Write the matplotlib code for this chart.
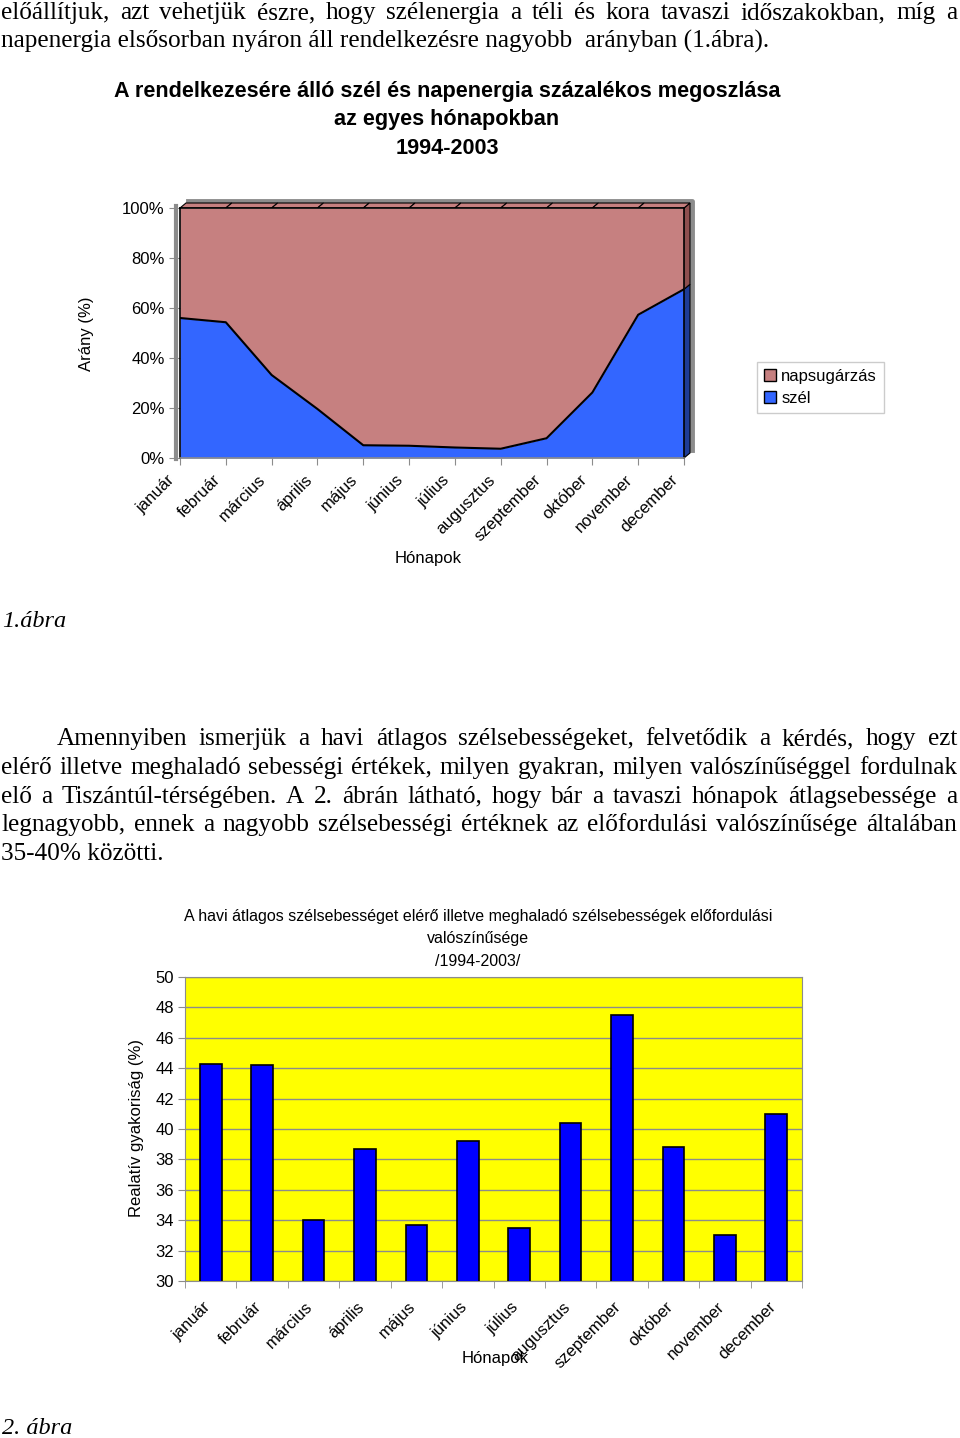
import numpy as np
import matplotlib
matplotlib.use('Agg')
import matplotlib.pyplot as plt
from matplotlib.patches import Patch, Polygon
from matplotlib import transforms

W, H = 960, 1438

# adatok
honapok = ['január', 'február', 'március', 'április', 'május', 'június',
           'július', 'augusztus', 'szeptember', 'október', 'november', 'december']
szel = [56.0, 54.3, 33.2, 19.6, 5.1, 4.9, 4.2, 3.7, 7.9, 26.2, 57.3, 67.5]
napsugarzas = [100 - v for v in szel]
gyakorisag = [44.3, 44.2, 34.0, 38.7, 33.7, 39.2, 33.5, 40.4, 47.5, 38.8, 33.0, 41.0]

top_text = [
    ("előállítjuk, azt vehetjük észre, hogy szélenergia a téli és kora tavaszi időszakokban, míg a", True),
    ("napenergia elsősorban nyáron áll rendelkezésre nagyobb  arányban (1.ábra).", False),
]
para_text = [
    ("Amennyiben ismerjük a havi átlagos szélsebességeket, felvetődik a kérdés, hogy ezt", True),
    ("elérő illetve meghaladó sebességi értékek, milyen gyakran, milyen valószínűséggel fordulnak", True),
    ("elő a Tiszántúl-térségében.  A 2. ábrán látható, hogy bár a tavaszi hónapok átlagsebessége a", True),
    ("legnagyobb, ennek a nagyobb szélsebességi értéknek az előfordulási valószínűsége általában", True),
    ("35-40% közötti.", False),
]

plt.rcParams['font.family'] = 'Liberation Sans'

fig = plt.figure(figsize=(W / 100, H / 100), dpi=100)
page = fig.add_axes([0, 0, 1, 1], zorder=0)
page.set_xlim(0, W)
page.set_ylim(H, 0)
page.axis('off')


def box(x0, y0, x1, y1, **kw):
    return fig.add_axes([x0 / W, 1 - y1 / H, (x1 - x0) / W, (y1 - y0) / H], **kw)


# szoveg sorkizarva
r = fig.canvas.get_renderer()
serif = dict(family='Liberation Serif', fontsize=18.2, color='black')


def write_line(text, y, x0=1, x1=957, justify=True):
    if not justify:
        page.text(x0, y, text, va='baseline', ha='left', **serif)
        return
    words = text.split()
    ts = [page.text(0, y, w, va='baseline', ha='left', **serif) for w in words]
    ws = [t.get_window_extent(r).width for t in ts]
    gap = (x1 - x0 - sum(ws)) / (len(ws) - 1)
    xx = x0
    for t, w in zip(ts, ws):
        t.set_x(xx)
        xx += w + gap


for i, (line, just) in enumerate(top_text):
    write_line(line, 19 + 29 * i, justify=just)
for i, (line, just) in enumerate(para_text):
    write_line(line, 745 + 28.8 * i, x0=57 if i == 0 else 1, justify=just)

page.text(2, 627, '1.ábra', family='Liberation Serif', style='italic', fontsize=17.5, va='baseline')
page.text(2, 1434, '2. ábra', family='Liberation Serif', style='italic', fontsize=17.5, va='baseline')

# ---- 1. abra ----
FS = 12
x = np.arange(12)
ax1 = box(180, 208, 684, 458, zorder=2)
ax1.fill_between(x, 0, szel, color='#3366FF', lw=0)
ax1.fill_between(x, szel, 100, color='#C68080', lw=0)
ax1.plot(x, szel, color='black', lw=1.5)
ax1.set_xlim(0, 11)
ax1.set_ylim(0, 100)
for s in ax1.spines.values():
    s.set_color('black')
    s.set_linewidth(1.2)
ax1.spines['bottom'].set_color('#8c8c8c')
ax1.set_yticks(range(0, 101, 20))
ax1.set_yticklabels([f'{v}%' for v in range(0, 101, 20)], fontsize=FS)
ax1.tick_params(axis='y', length=8, color='#8c8c8c', pad=3)
ax1.set_xticks(x)
ax1.set_xticklabels(honapok, rotation=45, ha='right', va='center',
                    rotation_mode='anchor', fontsize=FS)
ax1.tick_params(axis='x', length=5, color='#8c8c8c', pad=9)
sh = transforms.ScaledTranslation(-8 / 100, 0, fig.dpi_scale_trans)
for lab in ax1.get_xticklabels():
    lab.set_transform(lab.get_transform() + sh)


def p1(i, v):
    return page.transData.inverted().transform(ax1.transData.transform((i, v)))


D = np.array([6, -5])
# hatso fal
tl = p1(0, 100) + 1.4 * D
tr = p1(11, 100) + 1.4 * D
bl = p1(0, 0)
page.plot([tl[0], tr[0], tr[0]], [tl[1], tr[1], bl[1] - 8], color='#8c8c8c', lw=3.5, zorder=1)
page.plot([bl[0] - 4, bl[0] - 4], [tl[1] + 5, bl[1] + 1], color='#8c8c8c', lw=3, zorder=1)
# oldallap
page.add_patch(Polygon([p1(11, 0), p1(11, szel[-1]), p1(11, szel[-1]) + D, p1(11, 0) + D],
                       closed=True, fc='#1E3C96', ec='black', lw=0.8, zorder=2))
page.add_patch(Polygon([p1(11, szel[-1]), p1(11, 100), p1(11, 100) + D, p1(11, szel[-1]) + D],
                       closed=True, fc='#8E4F4F', ec='black', lw=0.8, zorder=2))
for i in range(11):
    page.add_patch(Polygon([p1(i, 100), p1(i + 1, 100), p1(i + 1, 100) + D, p1(i, 100) + D],
                           closed=True, fc='#C68080', ec='black', lw=0.8, zorder=2))

page.text(447, 91, 'A rendelkezesére álló szél és napenergia százalékos megoszlása',
          ha='center', va='center', fontsize=15.6, fontweight='bold')
page.text(447, 120, 'az egyes hónapokban', ha='center', va='center', fontsize=15.6, fontweight='bold')
page.text(447, 148, '1994-2003', ha='center', va='center', fontsize=15.6, fontweight='bold')
page.text(87, 334, 'Arány (%)', rotation=90, ha='center', va='center', fontsize=FS)
page.text(428, 558, 'Hónapok', ha='center', va='center', fontsize=FS)

fig.legend([Patch(fc='#C68080', ec='black'), Patch(fc='#3366FF', ec='black')],
           ['napsugárzás', 'szél'], loc='upper left',
           bbox_to_anchor=(757 / W, 1 - 362 / H), bbox_transform=fig.transFigure,
           frameon=True, fancybox=False, edgecolor='#c0c0c0', fontsize=FS,
           handlelength=0.75, handleheight=0.75, handletextpad=0.3,
           borderpad=0.4, labelspacing=0.45, borderaxespad=0)

# ---- 2. abra ----
ax2 = box(185, 977, 802, 1281, zorder=2)
ax2.set_facecolor('#FFFF00')
ax2.bar(x, gyakorisag, width=0.42, color='#0000FF', edgecolor='black', lw=1.2, zorder=3)
ax2.set_ylim(30, 50)
ax2.set_xlim(-0.5, 11.5)
ax2.set_yticks(np.arange(30, 51, 2))
ax2.tick_params(axis='y', labelsize=FS, length=5, color='#8c8c8c', pad=3)
ax2.grid(axis='y', color='#8c8c8c', lw=1)
ax2.set_axisbelow(True)
for s in ax2.spines.values():
    s.set_color('#8c8c8c')
ax2.set_xticks(x)
ax2.set_xticklabels(honapok, rotation=45, ha='right', va='center',
                    rotation_mode='anchor', fontsize=FS)
ax2.set_xticks(np.arange(-0.5, 12, 1), minor=True)
ax2.tick_params(axis='x', which='major', length=0, pad=17)
ax2.tick_params(axis='x', which='minor', length=5, color='#8c8c8c')
for lab in ax2.get_xticklabels():
    lab.set_transform(lab.get_transform() + transforms.ScaledTranslation(-3 / 100, 0, fig.dpi_scale_trans))

page.text(478, 917, 'A havi átlagos szélsebességet elérő illetve meghaladó szélsebességek előfordulási',
          ha='center', va='center', fontsize=11.5)
page.text(478, 939, 'valószínűsége', ha='center', va='center', fontsize=11.5)
page.text(478, 961, '/1994-2003/', ha='center', va='center', fontsize=11.5)
page.text(137, 1128, 'Realatív gyakoriság (%)', rotation=90, ha='center', va='center', fontsize=FS)
page.text(495, 1358, 'Hónapok', ha='center', va='center', fontsize=FS)

fig.savefig('out.png', dpi=100)
